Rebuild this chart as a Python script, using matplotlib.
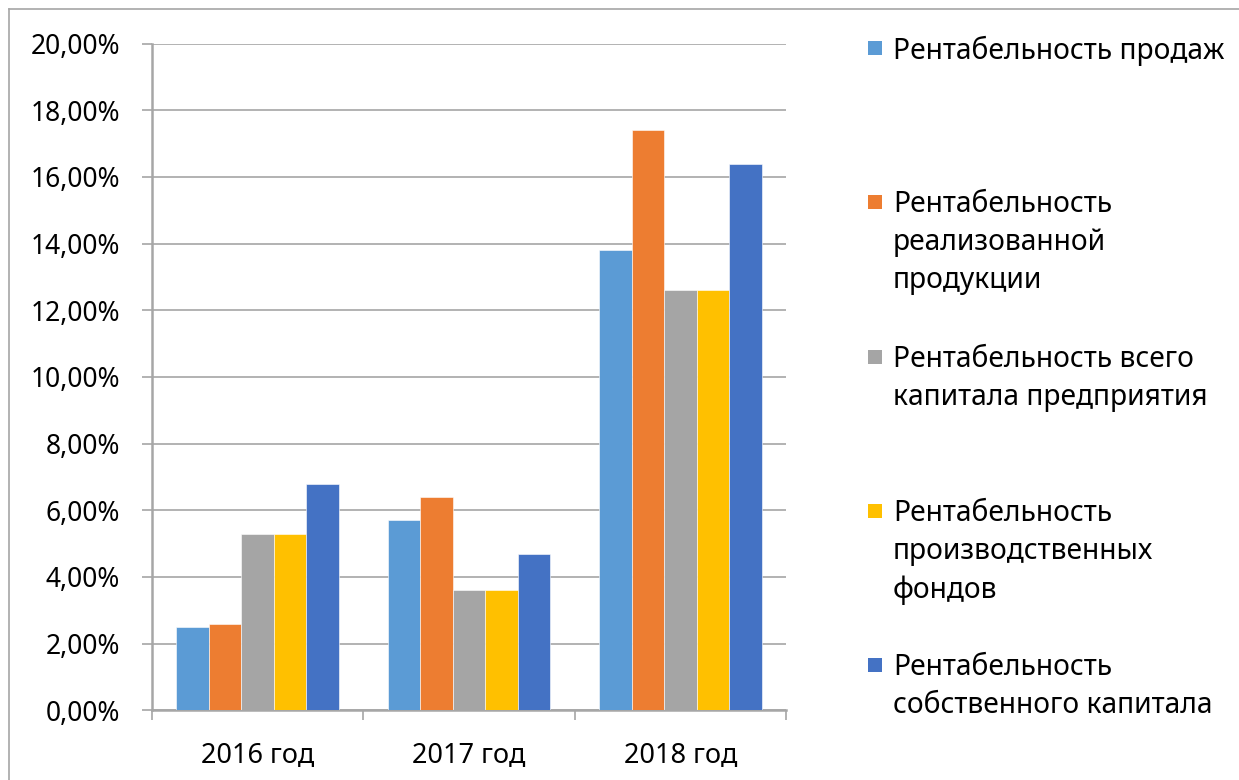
import matplotlib
matplotlib.use("Agg")
import matplotlib.pyplot as plt
from matplotlib.patches import Rectangle
import numpy as np

plt.rcParams['font.family'] = ['Noto Sans', 'DejaVu Sans']

categories = ["2016 год", "2017 год", "2018 год"]
series_names = [
    "Рентабельность продаж",
    "Рентабельность реализованной продукции",
    "Рентабельность всего капитала предприятия",
    "Рентабельность производственных фондов",
    "Рентабельность собственного капитала",
]
legend_labels = [
    "Рентабельность продаж",
    "Рентабельность\nреализованной\nпродукции",
    "Рентабельность всего\nкапитала предприятия",
    "Рентабельность\nпроизводственных\nфондов",
    "Рентабельность\nсобственного капитала",
]
sales = [2.5, 5.7, 13.8]
realized = [2.6, 6.4, 17.4]
total_capital = [5.3, 3.6, 12.6]
production_funds = [5.3, 3.6, 12.6]
equity = [6.8, 4.7, 16.4]
values = [sales, realized, total_capital, production_funds, equity]
colors = ["#5B9BD5", "#ED7D31", "#A5A5A5", "#FFC000", "#4472C4"]
yticks = [0, 2, 4, 6, 8, 10, 12, 14, 16, 18, 20]
ytick_labels = ["0,00%", "2,00%", "4,00%", "6,00%", "8,00%", "10,00%",
                "12,00%", "14,00%", "16,00%", "18,00%", "20,00%"]

W, H = 1239, 780
fig = plt.figure(figsize=(W / 100, H / 100), dpi=100)
fig.patch.set_facecolor("white")

# chart border (top and left visible)
fig.add_artist(plt.Line2D([9 / W, 9 / W], [0, 1 - 9 / H], color="#a6a6a6", lw=1.2,
                          transform=fig.transFigure))
fig.add_artist(plt.Line2D([9 / W, 1], [1 - 9 / H, 1 - 9 / H], color="#a6a6a6", lw=1.2,
                          transform=fig.transFigure))

left, right = 152 / W, 786 / W
bottom, top = (H - 710.3) / H, (H - 43.6) / H
ax = fig.add_axes([left, bottom, right - left, top - bottom])

x = np.arange(len(categories))
n = len(values)
bw = 0.77 / n
for i, (vals, c) in enumerate(zip(values, colors)):
    ax.bar(x + (i - (n - 1) / 2) * bw, vals, width=bw, color=c,
           edgecolor="white", linewidth=0.4, label=series_names[i], zorder=3)

ax.set_xlim(-0.5, len(categories) - 0.5)
ax.set_ylim(0, 20)
ax.set_yticks(yticks)
ax.set_yticklabels(ytick_labels)
ax.set_xticks(x)
ax.set_xticklabels(categories)
ax.set_xticks(np.arange(-0.5, len(categories), 1.0), minor=True)

ax.grid(axis="y", color="#a6a6a6", linewidth=1.2, zorder=0)
for s in ["top", "right"]:
    ax.spines[s].set_visible(False)
for s in ["left", "bottom"]:
    ax.spines[s].set_color("#a6a6a6")
    ax.spines[s].set_linewidth(1.8)

ax.tick_params(axis="y", length=7, width=1.2, color="#a6a6a6", pad=16,
               labelsize=19, labelcolor="black")
ax.tick_params(axis="x", which="major", length=0, pad=23, labelsize=19.5, labelcolor="black")
ax.tick_params(axis="x", which="minor", length=7, width=1.2, color="#a6a6a6")

# legend drawn manually
entry_y = [48, 202, 357, 511, 665]
for lab, c, yy in zip(legend_labels, colors, entry_y):
    fig.add_artist(Rectangle(((868) / W, 1 - (yy + 7) / H), 14 / W, 14 / H,
                             facecolor=c, edgecolor="none", transform=fig.transFigure))
    fig.text(893 / W, 1 - (yy - 12) / H, lab, fontsize=20.3, va="top", ha="left",
             linespacing=1.42, color="black")

fig.savefig("out.png", dpi=100)
